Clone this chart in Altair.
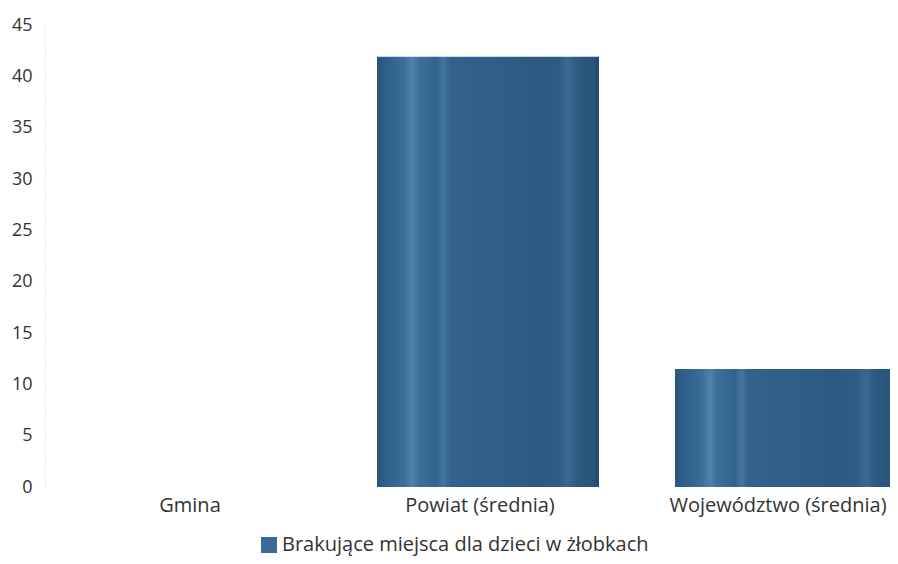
import altair as alt
import pandas as pd

categories = ["Gmina", "Powiat (średnia)", "Województwo (średnia)"]
values = [0, 41.9, 11.5]
series_name = "Brakujące miejsca dla dzieci w żłobkach"
y_ticks = [0, 5, 10, 15, 20, 25, 30, 35, 40, 45]

df = pd.DataFrame({"kategoria": categories, "wartosc": values, "seria": [series_name] * 3})

FONT = "Open Sans"
TEXT = "#333333"

bar_gradient = alt.Gradient(
    gradient="linear",
    x1=0, x2=1, y1=0, y2=0,
    stops=[
        alt.GradientStop(offset=0.0, color="#2a5478"),
        alt.GradientStop(offset=0.04, color="#2f5f8a"),
        alt.GradientStop(offset=0.12, color="#3b6d98"),
        alt.GradientStop(offset=0.16, color="#5082ab"),
        alt.GradientStop(offset=0.19, color="#3e6f9a"),
        alt.GradientStop(offset=0.27, color="#33648f"),
        alt.GradientStop(offset=0.30, color="#4676a0"),
        alt.GradientStop(offset=0.33, color="#33638d"),
        alt.GradientStop(offset=0.50, color="#2f5f89"),
        alt.GradientStop(offset=0.70, color="#2c5a82"),
        alt.GradientStop(offset=0.82, color="#2d5b83"),
        alt.GradientStop(offset=0.86, color="#3a6a93"),
        alt.GradientStop(offset=0.90, color="#2d5a81"),
        alt.GradientStop(offset=0.97, color="#2a5479"),
        alt.GradientStop(offset=1.0, color="#244a6c"),
    ],
)

x_scale = alt.Scale(range=[34, 852], paddingInner=0.255, paddingOuter=0)
y_scale = alt.Scale(domain=[0, 45], nice=False)

x_axis = alt.Axis(
    labelAngle=0,
    domain=False,
    ticks=False,
    grid=False,
    labelPadding=8,
    labelFont=FONT,
    labelFontSize=20,
    labelColor=TEXT,
    labelLimit=0,
    labelOffset={"condition": {"test": "datum.value != 'Gmina'", "value": -8}, "value": 0},
)

y_axis = alt.Axis(
    values=y_ticks,
    grid=False,
    ticks=False,
    domain=True,
    domainColor="#dcc8e2",
    domainDash=[1, 2],
    domainWidth=1,
    labelPadding=13,
    labelFont=FONT,
    labelFontSize=18,
    labelColor=TEXT,
)

bars = alt.Chart(df).mark_bar(color=bar_gradient).encode(
    x=alt.X("kategoria:N", sort=categories, title=None, scale=x_scale, axis=x_axis),
    y=alt.Y("wartosc:Q", title=None, scale=y_scale, axis=y_axis),
)

legend_layer = (
    alt.Chart(df)
    .transform_calculate(zero="0")
    .mark_bar()
    .encode(
        x=alt.X("kategoria:N", sort=categories, title=None, scale=x_scale, axis=x_axis),
        y=alt.Y("zero:Q", title=None, scale=y_scale, axis=y_axis),
        color=alt.Color(
            "seria:N",
            scale=alt.Scale(domain=[series_name], range=["#3a6a97"]),
            legend=alt.Legend(
                title=None,
                orient="none",
                legendX=214,
                legendY=510,
                symbolType="square",
                symbolSize=256,
                symbolStrokeWidth=0,
                labelFont=FONT,
                labelFontSize=20,
                labelColor=TEXT,
                labelLimit=0,
                labelOffset=3,
                padding=0,
            ),
        ),
    )
)

chart = (
    alt.layer(bars, legend_layer)
    .properties(
        width=845,
        height=462,
        background="white",
        autosize=alt.AutoSizeParams(type="none"),
        padding={"left": 37, "top": 17, "right": 0, "bottom": 69},
    )
    .configure_view(stroke="transparent", strokeWidth=0)
    .configure_axis(grid=False)
)

chart.save("out.html", embed_options={"renderer": "svg", "actions": False})
